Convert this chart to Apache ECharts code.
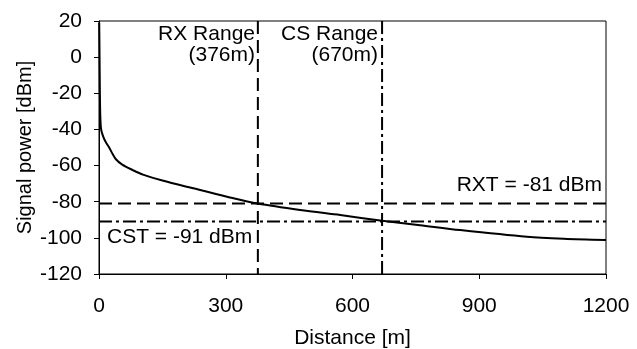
<!DOCTYPE html>
<html>
<head>
<meta charset="utf-8">
<script src="https://cdn.jsdelivr.net/npm/echarts@6/dist/echarts.min.js"></script>
<style>
  html, body { margin: 0; padding: 0; background: #fff; }
  #chart { width: 637px; height: 349px; }
</style>
</head>
<body>
<div id="chart"></div>
<script>
// signal power vs distance
const distances = [0.5, 1, 1.5, 2, 3, 5, 10, 16, 24, 32, 40, 55, 80, 104, 150, 223, 303, 376, 476, 571, 670, 760, 855, 1013, 1100, 1200]
const power = [19, 8, -5, -18, -32, -40, -44, -47, -50, -53.5, -56.5, -59.5, -62.5, -65, -68.3, -72.6, -77.2, -81, -84.6, -87.4, -90.5, -93, -95.7, -99.4, -100.5, -101.2]

const rxRange = 376
const csRange = 670
const rxt = -81
const cst = -91

const xTicks = [0, 300, 600, 900, 1200]
const yTicks = [-120, -100, -80, -60, -40, -20, 0, 20]

const font = 'Liberation Sans, Arial, sans-serif'
const dashed = [13, 6]
const dashDot = [13, 4, 3, 4]

const chart = echarts.init(document.getElementById('chart'))

const txt = { color: '#000', fontSize: 21, fontFamily: font }

chart.setOption({
  animation: false,
  grid: {
    left: 99,
    right: 31,
    top: 21,
    bottom: 75,
    outerBoundsMode: 'none',
    show: true,
    borderColor: '#000',
    borderWidth: 1,
  },
  xAxis: {
    type: 'value',
    min: xTicks[0],
    max: xTicks[xTicks.length - 1],
    interval: 300,
    name: 'Distance [m]',
    nameLocation: 'middle',
    nameGap: 54,
    nameMoveOverlap: false,
    nameTextStyle: txt,
    axisLine: { show: true, onZero: false, lineStyle: { color: '#000' } },
    axisTick: { show: true, length: 5, lineStyle: { color: '#000' } },
    axisLabel: { ...txt, margin: 22, formatter: v => String(v) },
    splitLine: { show: false },
  },
  yAxis: {
    type: 'value',
    min: yTicks[0],
    max: yTicks[yTicks.length - 1],
    interval: 20,
    name: 'Signal power [dBm]',
    nameLocation: 'middle',
    nameGap: 64,
    nameMoveOverlap: false,
    nameTextStyle: { ...txt, fontSize: 20 },
    axisLine: { show: true, onZero: false, lineStyle: { color: '#000' } },
    axisTick: { show: true, length: 5, lineStyle: { color: '#000' } },
    axisLabel: { ...txt, margin: 17 },
    splitLine: { show: false },
  },
  series: [
    {
      type: 'line',
      data: distances.map((d, i) => [d, power[i]]),
      showSymbol: false,
      smooth: 0.3,
      lineStyle: { color: '#000', width: 2 },
      z: 3,
    },
    {
      type: 'line',
      data: [[rxRange, 20], [rxRange, -120]],
      showSymbol: false,
      lineStyle: { color: '#000', width: 2, type: dashed },
    },
    {
      type: 'line',
      data: [[csRange, 20], [csRange, -120]],
      showSymbol: false,
      lineStyle: { color: '#000', width: 2, type: dashDot },
    },
    {
      type: 'line',
      data: [[0, rxt], [1200, rxt]],
      showSymbol: false,
      lineStyle: { color: '#000', width: 2, type: dashed },
    },
    {
      type: 'line',
      data: [[0, cst], [1200, cst]],
      showSymbol: false,
      lineStyle: { color: '#000', width: 2, type: dashDot },
    },
  ],
  graphic: [
    { type: 'text', right: 637 - 255, top: 24, style: { text: 'RX Range', fill: '#000', font: '21px ' + font } },
    { type: 'text', right: 637 - 255, top: 45, style: { text: '(376m)', fill: '#000', font: '21px ' + font } },
    { type: 'text', right: 637 - 378, top: 24, style: { text: 'CS Range', fill: '#000', font: '21px ' + font } },
    { type: 'text', right: 637 - 378, top: 45, style: { text: '(670m)', fill: '#000', font: '21px ' + font } },
    { type: 'text', right: 637 - 602, top: 175, style: { text: 'RXT = -81 dBm', fill: '#000', font: '21px ' + font } },
    { type: 'text', left: 107, top: 227, style: { text: 'CST = -91 dBm', fill: '#000', font: '21px ' + font } },
  ],
})
</script>
</body>
</html>
